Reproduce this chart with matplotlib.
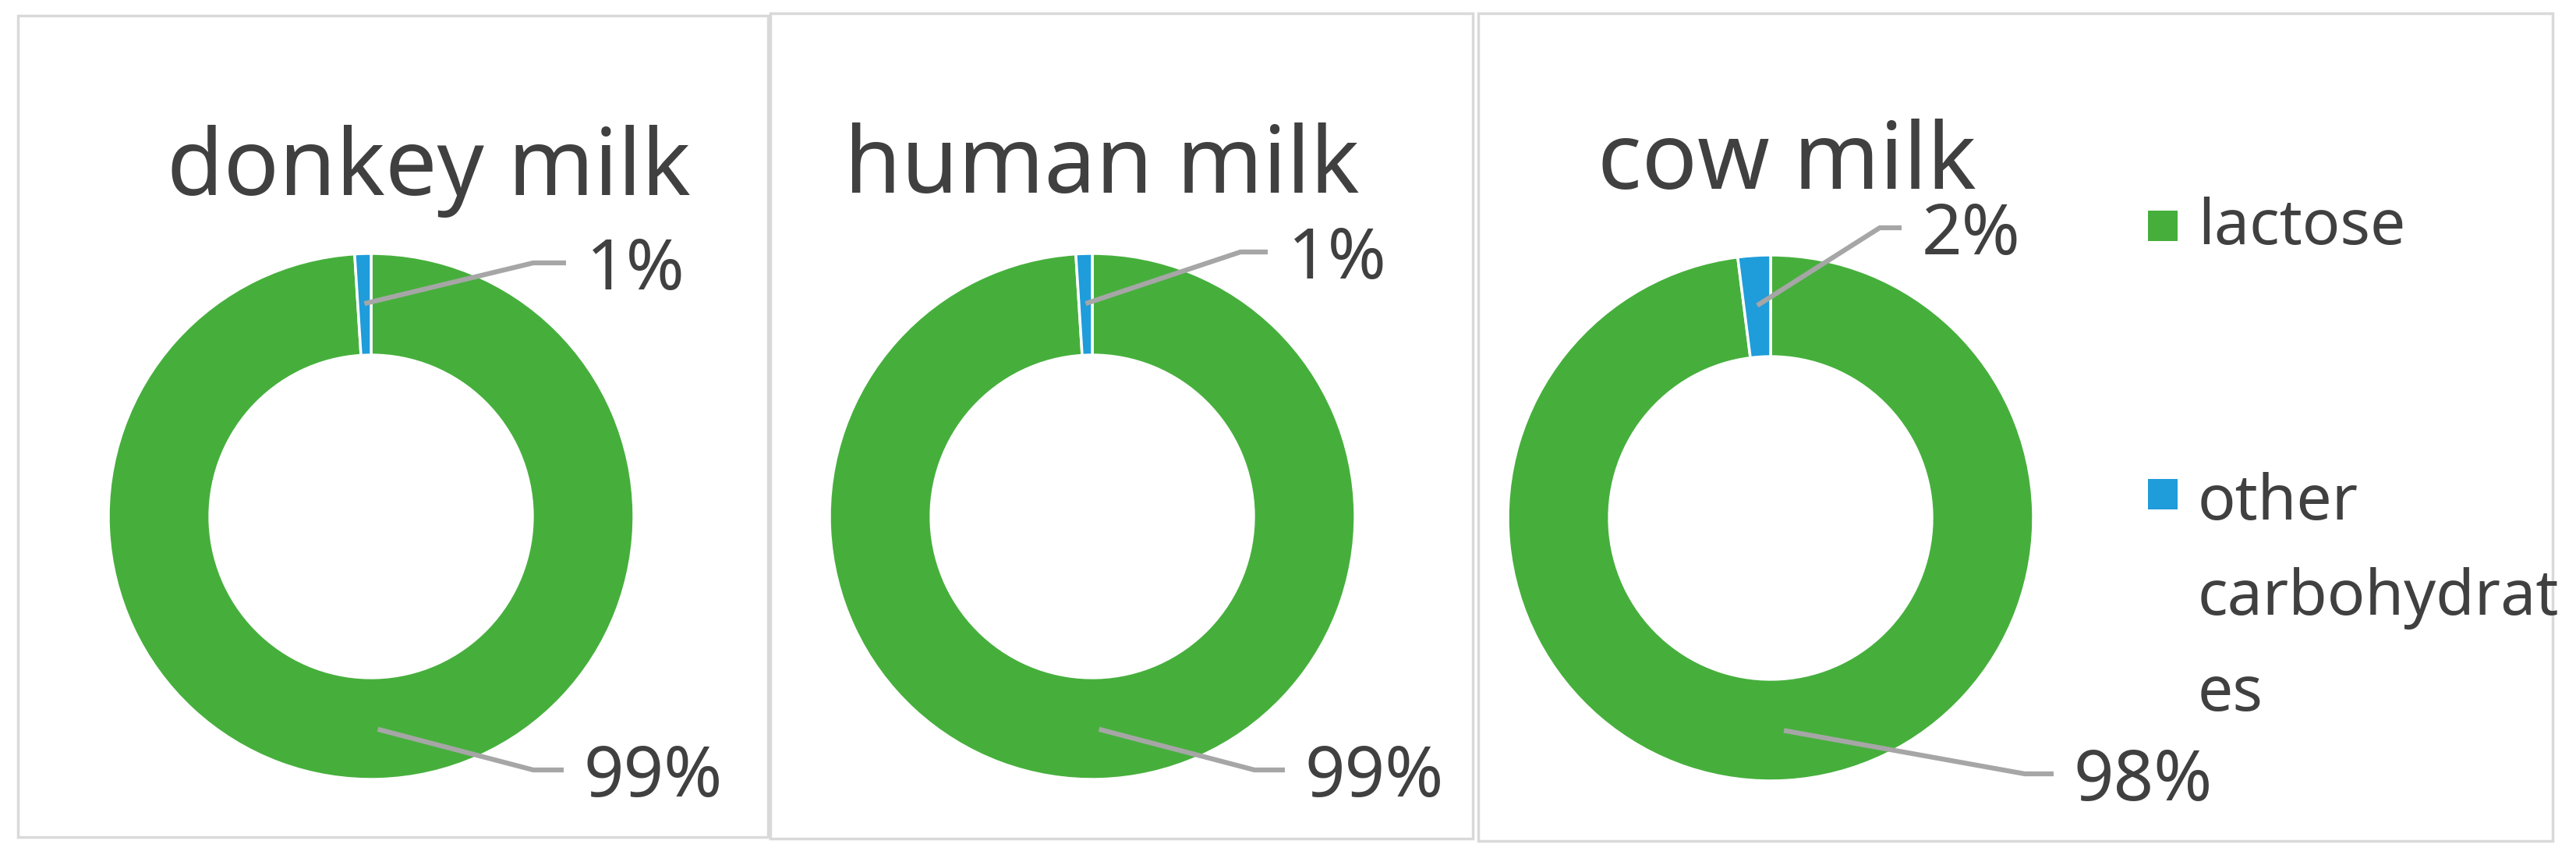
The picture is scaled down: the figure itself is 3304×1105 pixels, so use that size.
import numpy as np
import matplotlib.pyplot as plt
from matplotlib.patches import Rectangle

W, H = 3305, 1105

titles = ["donkey milk", "human milk", "cow milk"]
categories = ["lactose", "other\ncarbohydrat\nes"]
lactose = [99, 99, 98]
other = [1, 1, 2]

green = "#46AF3C"
blue = "#1F9CDA"
text_c = "#404040"
line_c = "#A6A6A6"
border_c = "#D9D9D9"

plt.rcParams['font.family'] = ['Noto Sans', 'DejaVu Sans']

fig = plt.figure(figsize=(W / 100, H / 100), dpi=100)
ax = fig.add_axes([0, 0, 1, 1])


def Y(y):
    # layout is read top-down from the picture, axis runs bottom-up
    return H - y


# panel frames (x0, y0, x1, y1) and donut layout
boxes = [(23, 20, 985, 1073), (988, 17, 1889, 1075), (1896, 17, 3274, 1078)]
centers = [(476, 662), (1401, 662), (2271, 664)]
R = 337
title_pos = [(550, 250), (1413, 247), (2292, 242)]
# leader elbow and end for (small slice, big slice)
leads = [
    [((684, 337), (726, 337)), ((684, 987), (723, 987))],
    [((1591, 323), (1626, 323)), ((1609, 987), (1648, 987))],
    [((2411, 292), (2439, 292)), ((2597, 992), (2634, 992))],
]

for i in range(3):
    x0, y0, x1, y1 = boxes[i]
    ax.add_patch(Rectangle((x0, Y(y1)), x1 - x0, y1 - y0, fill=False,
                           edgecolor=border_c, lw=2.5, zorder=0))
    cx, cy = centers[i]
    vals = [lactose[i], other[i]]
    wedges, _ = ax.pie(vals, colors=[green, blue], startangle=90, counterclock=False,
                       center=(cx, Y(cy)), radius=R,
                       wedgeprops=dict(width=R * 0.386, edgecolor='white', linewidth=2.5))
    ax.text(title_pos[i][0], Y(title_pos[i][1]), titles[i], fontsize=85, color=text_c,
            ha='center', va='baseline')
    # labels: small slice first, then lactose
    for w, v, (elbow, end) in zip([wedges[1], wedges[0]], [vals[1], vals[0]], leads[i]):
        mid = np.deg2rad((w.theta1 + w.theta2) / 2)
        ax_ = cx + 0.81 * R * np.cos(mid)
        ay_ = Y(cy) + 0.81 * R * np.sin(mid)
        ax.plot([ax_, elbow[0], end[0]], [ay_, Y(elbow[1]), Y(end[1])],
                color=line_c, lw=4.5, solid_capstyle='butt', zorder=3)
        ax.text(end[0] + 26, Y(end[1]), f"{v}%", fontsize=65, color=text_c,
                ha='left', va='center_baseline')

# legend (text y = baseline of the last line)
leg_sq = [(2755, 270), (2755, 614)]
leg_txt = [(2819, 313), (2819, 911)]
for k, c in enumerate([green, blue]):
    sx, sy = leg_sq[k]
    ax.add_patch(Rectangle((sx, Y(sy + 39)), 38, 39, color=c, lw=0))
    ax.text(leg_txt[k][0], Y(leg_txt[k][1]), categories[k], fontsize=58, color=text_c,
            ha='left', va='baseline', linespacing=1.7)

ax.set_xlim(0, W)
ax.set_ylim(0, H)
ax.set_aspect('auto')
ax.axis('off')

fig.savefig("out.png", dpi=100, facecolor='white')
